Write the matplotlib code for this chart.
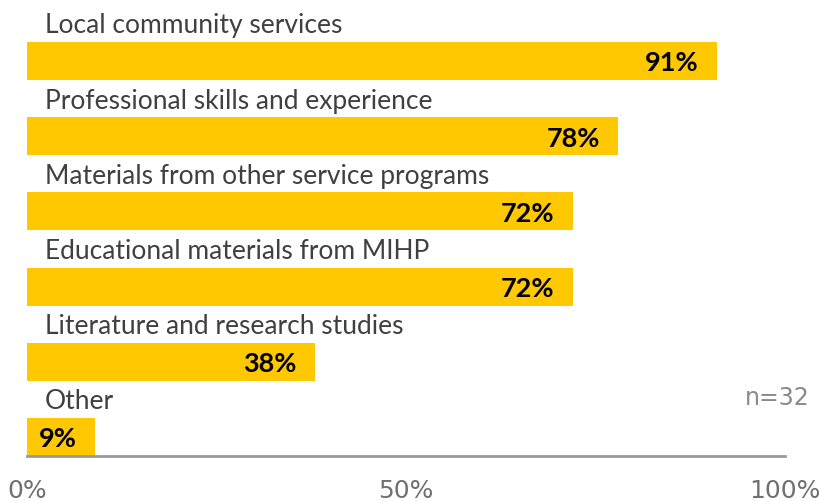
import matplotlib.pyplot as plt

categories = [
    "Local community services",
    "Professional skills and experience",
    "Materials from other service programs",
    "Educational materials from MIHP",
    "Literature and research studies",
    "Other",
]
shares = [91, 78, 72, 72, 38, 9]
tick_values = [0, 50, 100]
tick_labels = ["0%", "50%", "100%"]
sample_note = "n=32"

bar_color = "#FFC800"
label_color = "#404040"
tick_color = "#707070"
narrow = ["Liberation Sans Narrow", "DejaVu Sans"]

fig = plt.figure(figsize=(8.2, 5.02), dpi=100)
ax = fig.add_axes([27 / 820, 45 / 502, 758 / 820, 457 / 502])

ypos = list(range(len(categories)))
ax.barh(ypos, shares, height=0.505, color=bar_color, zorder=2)

for y, name, val in zip(ypos, categories, shares):
    ax.text(2.4, y - 0.48, name, ha="left", va="center", fontsize=19,
            family=["Lato", "DejaVu Sans"], color=label_color)
    ax.text(val - 2.4, y + 0.02, f"{val}%", ha="right", va="center",
            fontsize=19.5, fontweight="bold", family=["Lato", "DejaVu Sans"],
            color="black", zorder=3)

ax.text(103.3, 4.47, sample_note, ha="right", va="center", fontsize=17,
        family=narrow, color="#8a8a8a", clip_on=False)

ax.set_xlim(0, 100)
ax.set_ylim(5.253, -0.824)
ax.set_yticks([])
ax.set_xticks(tick_values)
ax.set_xticklabels(tick_labels, fontsize=18, family=narrow, color=tick_color)
ax.tick_params(axis="x", length=0, pad=16)

for side in ["top", "right", "left"]:
    ax.spines[side].set_visible(False)
ax.spines["bottom"].set_color("#999999")
ax.spines["bottom"].set_linewidth(2)

fig.savefig("out.png", dpi=100)
